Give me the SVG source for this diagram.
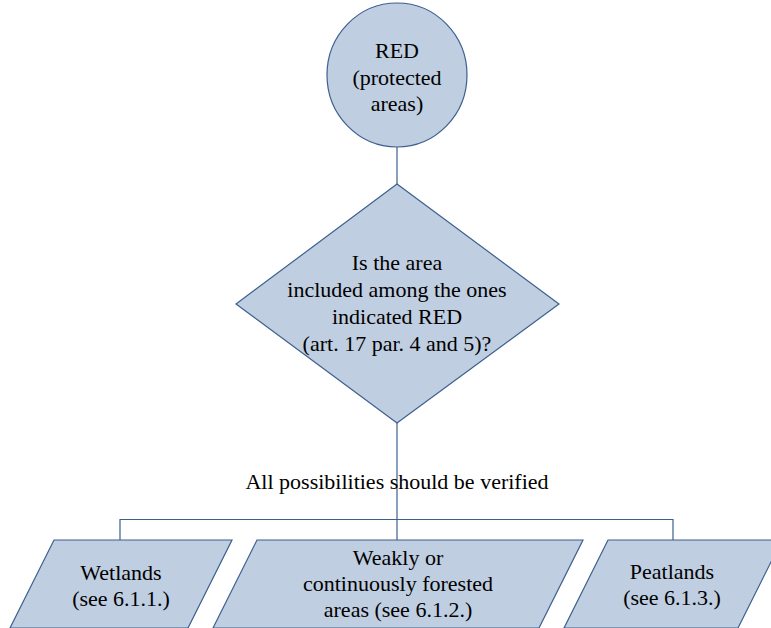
<svg xmlns="http://www.w3.org/2000/svg" width="771" height="628" viewBox="0 0 771 628">
<style>
.shape{fill:#bfcee1;stroke:#3c5f8f;stroke-width:1.2}
.conn{fill:none;stroke:#3c5f8f;stroke-width:1.2}
</style>
<rect width="771" height="628" fill="#ffffff"/>
<g id="connectors">
<line class="conn" x1="397" y1="147" x2="397" y2="184"/>
<line class="conn" x1="397" y1="423" x2="397" y2="540"/>
<polyline class="conn" points="120,540 120,519.5 673,519.5 673,540"/>
</g>
<g id="nodes" text-anchor="middle" fill="#000000">
<g id="start">
<ellipse class="shape" cx="397" cy="75" rx="70" ry="72"/>
<text x="397" y="58" style="font-family:'Liberation Serif';font-size:22px">RED</text>
<text x="397" y="85" style="font-family:'Liberation Serif';font-size:22px">(protected</text>
<text x="397" y="111" style="font-family:'Liberation Serif';font-size:22px">areas)</text>
</g>
<g id="decision">
<polygon class="shape" points="397,184 559,304 397,423 236,304"/>
<text x="397" y="270" style="font-family:'Liberation Serif';font-size:22px">Is the area</text>
<text x="397" y="297" style="font-family:'Liberation Serif';font-size:22px">included among the ones</text>
<text x="397" y="324" style="font-family:'Liberation Serif';font-size:22px">indicated RED</text>
<text x="397" y="351" style="font-family:'Liberation Serif';font-size:22px">(art. 17 par. 4 and 5)?</text>
</g>
<g id="label">
<text x="397" y="489" style="font-family:'Liberation Serif';font-size:22px">All possibilities should be verified</text>
</g>
<g id="wetlands">
<polygon class="shape" points="54,540 232,540 188,628 10,628"/>
<text x="121" y="580" style="font-family:'Liberation Serif';font-size:22px">Wetlands</text>
<text x="121" y="606" style="font-family:'Liberation Serif';font-size:22px">(see 6.1.1.)</text>
</g>
<g id="forested">
<polygon class="shape" points="257,540 583,540 539,628 213,628"/>
<text x="398" y="565" style="font-family:'Liberation Serif';font-size:22px">Weakly or</text>
<text x="398" y="591" style="font-family:'Liberation Serif';font-size:22px">continuously forested</text>
<text x="398" y="617" style="font-family:'Liberation Serif';font-size:22px">areas (see 6.1.2.)</text>
</g>
<g id="peatlands">
<polygon class="shape" points="608,540 782,540 738,628 564,628"/>
<text x="672" y="579" style="font-family:'Liberation Serif';font-size:22px">Peatlands</text>
<text x="672" y="605" style="font-family:'Liberation Serif';font-size:22px">(see 6.1.3.)</text>
</g>
</g>
</svg>
